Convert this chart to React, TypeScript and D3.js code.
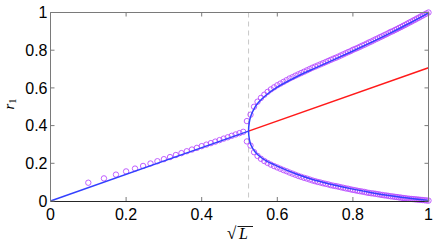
import React from "react";
import * as d3 from "d3";

const W = 436;
const H = 242;

// sqrt(L) where the fold sits (dashed line)
const foldS = 0.524;

// theory curve, upper / lower branch after the fold, sampled in sqrt(L)
const branchS = [0.524, 0.526, 0.53, 0.54, 0.55, 0.57, 0.6, 0.65, 0.7, 0.75, 0.8, 0.85, 0.9, 0.95, 1.0];
const upperR = [0.3705, 0.419, 0.451, 0.494, 0.522, 0.561, 0.604, 0.658, 0.705, 0.75, 0.796, 0.843, 0.892, 0.943, 0.998];
const lowerR = [0.3705, 0.328, 0.298, 0.264, 0.243, 0.214, 0.185, 0.143, 0.11, 0.085, 0.063, 0.044, 0.028, 0.014, 0.003];

// symmetric branch r1 = sqrt(L)/sqrt(2): blue before the fold, red after
const symS = [0, foldS, 1];
const symR = [0, 0.3705, 0.707];

// simulation markers, sampled in L
const diagL = [0.01, 0.02, 0.03, 0.04, 0.05, 0.06, 0.07, 0.08, 0.09, 0.1, 0.11, 0.12, 0.13,
  0.14, 0.15, 0.16, 0.17, 0.18, 0.19, 0.2, 0.21, 0.22, 0.23, 0.24, 0.25, 0.26];
const diagR = [0.097, 0.12, 0.14, 0.157, 0.172, 0.186, 0.199, 0.211, 0.222, 0.233, 0.244, 0.254, 0.264,
  0.273, 0.282, 0.291, 0.299, 0.307, 0.315, 0.323, 0.331, 0.338, 0.346, 0.353, 0.36, 0.367];

const branchL = [
  0.27, 0.28, 0.29, 0.3, 0.31, 0.32, 0.33, 0.34, 0.35, 0.36,
  0.37, 0.38, 0.39, 0.4, 0.41, 0.42, 0.43, 0.44, 0.45, 0.46,
  0.47, 0.48, 0.49, 0.5, 0.51, 0.52, 0.53, 0.54, 0.55, 0.56,
  0.57, 0.58, 0.59, 0.6, 0.61, 0.62, 0.63, 0.64, 0.65, 0.66,
  0.67, 0.68, 0.69, 0.7, 0.71, 0.72, 0.73, 0.74, 0.75, 0.76,
  0.77, 0.78, 0.79, 0.8, 0.81, 0.82, 0.83, 0.84, 0.85, 0.86,
  0.87, 0.88, 0.89, 0.9, 0.91, 0.92, 0.93, 0.94, 0.95, 0.96,
  0.97, 0.98, 0.99, 1.0];
const upperCircR = [
  0.424, 0.458, 0.5, 0.527, 0.547, 0.564, 0.579, 0.592, 0.603, 0.614,
  0.623, 0.632, 0.641, 0.65, 0.657, 0.665, 0.672, 0.679, 0.686, 0.693,
  0.7, 0.707, 0.713, 0.719, 0.725, 0.731, 0.737, 0.743, 0.749, 0.755,
  0.76, 0.766, 0.772, 0.778, 0.784, 0.79, 0.795, 0.802, 0.807, 0.812,
  0.818, 0.824, 0.829, 0.835, 0.841, 0.846, 0.852, 0.858, 0.863, 0.869,
  0.874, 0.88, 0.885, 0.891, 0.897, 0.901, 0.907, 0.912, 0.918, 0.923,
  0.929, 0.934, 0.94, 0.946, 0.951, 0.957, 0.962, 0.968, 0.973, 0.979,
  0.984, 0.99, 0.995, 1.0];
const lowerCircR = [
  0.316, 0.294, 0.259, 0.239, 0.224, 0.212, 0.202, 0.193, 0.185, 0.178,
  0.171, 0.164, 0.158, 0.151, 0.145, 0.139, 0.133, 0.128, 0.123, 0.119,
  0.114, 0.109, 0.105, 0.101, 0.098, 0.094, 0.091, 0.088, 0.084, 0.081,
  0.079, 0.076, 0.073, 0.07, 0.067, 0.065, 0.062, 0.059, 0.057, 0.054,
  0.052, 0.05, 0.048, 0.045, 0.043, 0.041, 0.04, 0.038, 0.036, 0.034,
  0.032, 0.03, 0.029, 0.027, 0.025, 0.024, 0.022, 0.021, 0.019, 0.018,
  0.016, 0.015, 0.013, 0.012, 0.011, 0.01, 0.009, 0.008, 0.007, 0.006,
  0.005, 0.004, 0.003, 0.002];

const ticks = [0, 0.2, 0.4, 0.6, 0.8, 1];
const tickLabels = ["0", "0.2", "0.4", "0.6", "0.8", "1"];

const BLUE = "#3340ff";
const RED = "#ff1a1a";
const PURPLE = "#b94dff";

export default function App() {
  const x = d3.scaleLinear().domain([0, 1]).range([50.5, 428.5]);
  const y = d3.scaleLinear().domain([0, 1]).range([201, 12.5]);

  const line = d3.line<[number, number]>()
    .x(d => x(d[0]))
    .y(d => y(d[1]));

  const curve = d3.line<[number, number]>()
    .x(d => x(d[0]))
    .y(d => y(d[1]))
    .curve(d3.curveCatmullRom.alpha(0.5));

  // upper branch from right end into the fold, then lower branch out again
  const branchPts: [number, number][] = [
    ...branchS.map((s, i) => [s, upperR[i]] as [number, number]).reverse(),
    ...branchS.slice(1).map((s, i) => [s, lowerR[i + 1]] as [number, number]),
  ];
  const bluePre: [number, number][] = [[symS[0], symR[0]], [symS[1], symR[1]]];
  const redPost: [number, number][] = [[symS[1], symR[1]], [symS[2], symR[2]]];

  const markers: [number, number][] = [
    ...diagL.map((L, i) => [Math.sqrt(L), diagR[i]] as [number, number]),
    ...branchL.map((L, i) => [Math.sqrt(L), upperCircR[i]] as [number, number]),
    ...branchL.map((L, i) => [Math.sqrt(L), lowerCircR[i]] as [number, number]),
  ];

  const [x0, x1] = x.range();
  const [yb, yt] = y.range();
  const axisGray = "#7a7a7a";
  const font = "'Liberation Sans', Arial, Helvetica, sans-serif";
  const serif = "'Liberation Serif', 'DejaVu Serif', serif";

  return (
    <div style={{ position: "fixed", left: 0, top: 0 }}>
      <svg width={W} height={H} style={{ display: "block", background: "#fff" }}>
        {/* dashed fold marker */}
        <line x1={x(foldS)} x2={x(foldS)} y1={yt} y2={yb} stroke="#c8c8c8" strokeWidth={1} strokeDasharray="5,4" />

        {/* simulation markers */}
        <g fill="none" stroke={PURPLE} strokeWidth={0.9}>
          {markers.map((d, i) => (
            <circle key={i} cx={x(d[0])} cy={y(d[1])} r={2.7} />
          ))}
        </g>

        {/* theory */}
        <path d={line(redPost) || ""} fill="none" stroke={RED} strokeWidth={1.5} />
        <path d={line(bluePre) || ""} fill="none" stroke={BLUE} strokeWidth={1.5} />
        <path d={curve(branchPts) || ""} fill="none" stroke={BLUE} strokeWidth={1.5} />

        {/* axes box */}
        <line x1={x0} x2={x1} y1={yt} y2={yt} stroke={axisGray} strokeWidth={1} />
        <line x1={x0} x2={x0} y1={yt} y2={yb} stroke={axisGray} strokeWidth={1} />
        <line x1={x1} x2={x1} y1={yt} y2={yb} stroke={axisGray} strokeWidth={1} />
        <line x1={x0} x2={x1} y1={yb + 0.5} y2={yb + 0.5} stroke="#262626" strokeWidth={1} />

        {ticks.map((t, i) => (
          <g key={"xt" + i}>
            <line x1={x(t)} x2={x(t)} y1={yb} y2={yb - 4} stroke={axisGray} />
            <line x1={x(t)} x2={x(t)} y1={yt} y2={yt + 4} stroke={axisGray} />
            <text x={x(t)} y={219.5} textAnchor="middle" fontFamily={font} fontSize={16} fill="#000">
              {tickLabels[i]}
            </text>
          </g>
        ))}
        {ticks.map((t, i) => (
          <g key={"yt" + i}>
            <line x1={x0} x2={x0 + 4} y1={y(t)} y2={y(t)} stroke={axisGray} />
            <line x1={x1} x2={x1 - 4} y1={y(t)} y2={y(t)} stroke={axisGray} />
            <text x={47.5} y={y(t) + 5.7} textAnchor="end" fontFamily={font} fontSize={16} fill="#000">
              {tickLabels[i]}
            </text>
          </g>
        ))}

        {/* x label: sqrt(L) */}
        <g fontFamily={serif} fill="#000">
          <text x={227} y={239} fontSize={17}>√</text>
          <line x1={237.5} x2={253} y1={226.5} y2={226.5} stroke="#000" strokeWidth={0.9} />
          <text x={239} y={239} fontSize={16} fontStyle="italic">L</text>
        </g>

        {/* y label: r_1 */}
        <g transform="translate(13.5,104) rotate(-90)">
          <text textAnchor="middle" fontFamily={serif} fontSize={15} fill="#000">
            <tspan fontStyle="italic">r</tspan>
            <tspan fontSize={10.5} dy={2.5}>1</tspan>
          </text>
        </g>
      </svg>
    </div>
  );
}
